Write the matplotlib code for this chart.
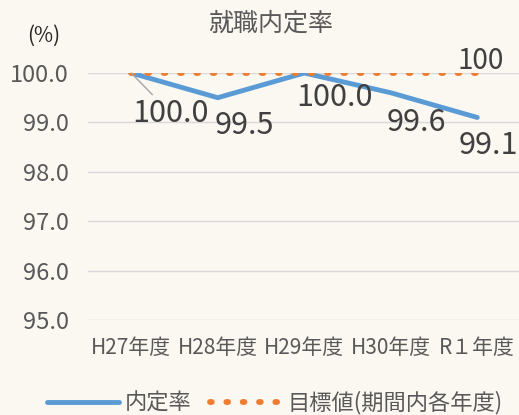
import matplotlib
matplotlib.use("Agg")
import matplotlib.pyplot as plt

plt.rcParams['font.family'] = ['Noto Sans CJK JP', 'DejaVu Sans']

years = ["H27年度", "H28年度", "H29年度", "H30年度", "R１年度"]
rate = [100.0, 99.5, 100.0, 99.6, 99.1]
target = [100, 100, 100, 100, 100]
yticks = [95.0, 96.0, 97.0, 98.0, 99.0, 100.0]

# label offsets in pixels (dx, dy) for the rate values
rate_off = [(39, -40), (27, -28), (30, -24), (26, -30), (11, -28)]

bg = "#FBF7F1"
fig = plt.figure(figsize=(5.19, 4.15), dpi=100, facecolor=bg)
ax = fig.add_axes([88 / 519, 1 - 320 / 415, 432.5 / 519, 247 / 415])
ax.set_facecolor(bg)

x = list(range(len(years)))
ax.plot(x, rate, color="#5B9BD5", lw=3.5, solid_capstyle="round", label="内定率", zorder=3)
ax.plot(x, target, color="#ED7D31", lw=4.2, linestyle=(0, (0.3, 2.5)),
        dash_capstyle="round", label="目標値(期間内各年度)", zorder=4)

for i, v in enumerate(rate):
    dx, dy = rate_off[i]
    kw = {}
    if i == 0:
        kw = dict(arrowprops=dict(arrowstyle="-", color="#A5A5A5", lw=1, shrinkA=0, shrinkB=0))
    ax.annotate(f"{v:.1f}", (x[i], v), xytext=(dx, dy), textcoords="offset pixels",
                ha="center", va="center", fontsize=22, color="#404040", zorder=5, **kw)

ax.annotate(f"{target[-1]}", (x[-1], target[-1]), xytext=(3, 12), textcoords="offset pixels",
            ha="center", va="center", fontsize=20, color="#404040", zorder=5)

ax.set_xlim(-0.5, len(years) - 0.5)
ax.set_ylim(95, 100)
ax.set_yticks(yticks)
ax.set_yticklabels([f"{t:.1f}" for t in yticks])
ax.set_xticks(x)
ax.set_xticklabels(years)
ax.grid(axis="y", color="#D9D9D9", lw=1)
ax.set_axisbelow(True)
for s in ax.spines.values():
    s.set_visible(False)
ax.tick_params(axis="y", length=0, pad=14, labelsize=17, labelcolor="#595959")
ax.tick_params(axis="x", length=0, pad=12, labelsize=15, labelcolor="#595959")

fig.text(271 / 519, 1 - 24 / 415, "就職内定率", ha="center", va="center",
         fontsize=18, color="#595959")
fig.text(44 / 519, 1 - 36 / 415, "(%)", ha="center", va="center",
         fontsize=15, color="#262626")

fig.legend(loc="center", bbox_to_anchor=(275 / 519, 1 - 403 / 415), ncol=2,
           frameon=False, fontsize=16, handlelength=3.2, handletextpad=0.3,
           columnspacing=0.8, labelcolor="#595959")

fig.savefig("out.png", dpi=100, facecolor=bg)
